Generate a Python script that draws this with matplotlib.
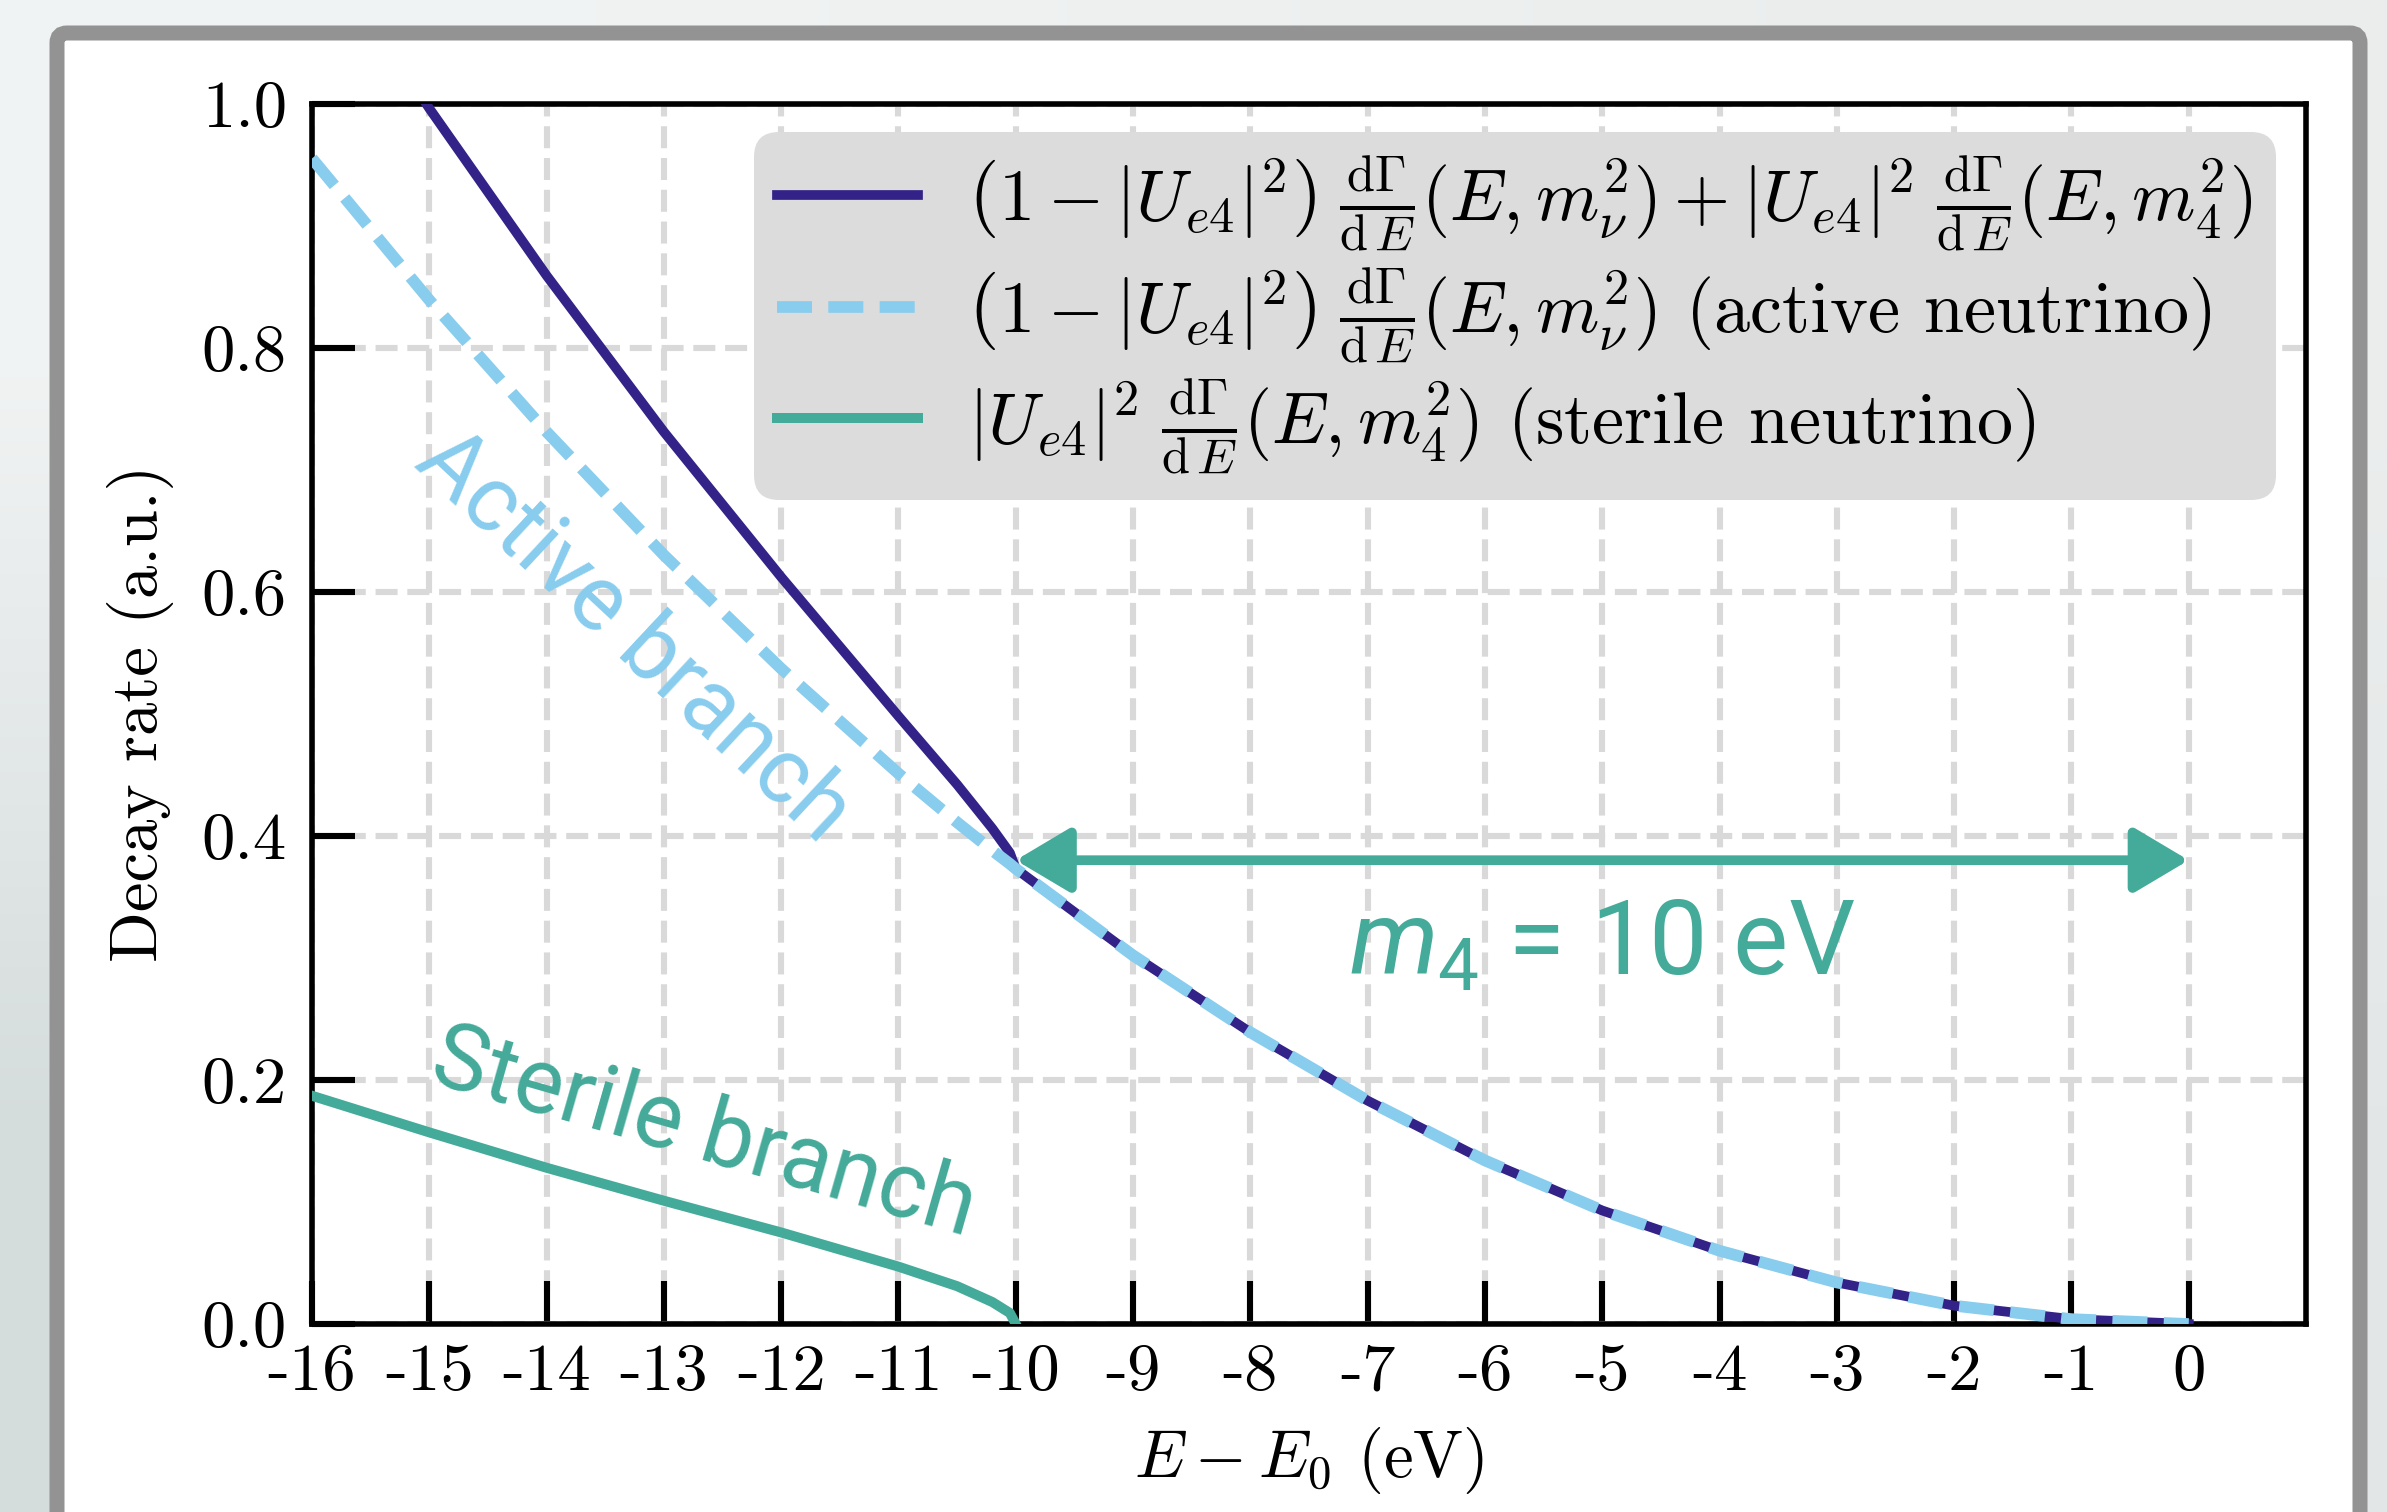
import numpy as np
import matplotlib
matplotlib.use("Agg")
import matplotlib.pyplot as plt
from matplotlib.patches import FancyBboxPatch

# ---------------- data ----------------
energy = [-16, -15, -14, -13, -12, -11, -10.5, -10.2, -10.05, -10,
          -9, -8, -7, -6, -5, -4, -3, -2, -1, 0]
active = [0.955, 0.839, 0.731, 0.630, 0.537, 0.451, 0.411, 0.388, 0.377, 0.373,
          0.302, 0.239, 0.183, 0.134, 0.093, 0.060, 0.034, 0.015, 0.004, 0.0]
sterile = [0.187, 0.157, 0.128, 0.101, 0.075, 0.047, 0.031, 0.018, 0.009, 0.0,
           0.0, 0.0, 0.0, 0.0, 0.0, 0.0, 0.0, 0.0, 0.0, 0.0]
sterile_end = -10          # sterile branch only exists below E0 - m4
x_ticks = list(range(-16, 1))
x_tick_labels = [str(t) for t in x_ticks]
y_ticks = [0.0, 0.2, 0.4, 0.6, 0.8, 1.0]
y_tick_labels = ["0.0", "0.2", "0.4", "0.6", "0.8", "1.0"]
arrow_y = 0.38
arrow_x = (-10, 0)

labels = [
    r"$\left(1-|U_{e4}|^2\right)\;\frac{\mathrm{d}\Gamma}{\mathrm{d}\,E}(E,m_\nu^2)+|U_{e4}|^2\;\frac{\mathrm{d}\Gamma}{\mathrm{d}\,E}(E,m_4^2)$",
    r"$\left(1-|U_{e4}|^2\right)\;\frac{\mathrm{d}\Gamma}{\mathrm{d}\,E}(E,m_\nu^2)$ (active neutrino)",
    r"$|U_{e4}|^2\;\frac{\mathrm{d}\Gamma}{\mathrm{d}\,E}(E,m_4^2)$ (sterile neutrino)",
]

C_DARK = "#332288"
C_LIGHT = "#88CCEE"
C_TEAL = "#44AA99"

plt.rcParams["font.family"] = ["cmr10", "DejaVu Serif"]
plt.rcParams["mathtext.fontset"] = "cm"
plt.rcParams["axes.unicode_minus"] = False
plt.rcParams["axes.formatter.use_mathtext"] = True

W, H, DPI = 2387, 1512, 200
fig = plt.figure(figsize=(W / DPI, H / DPI), dpi=DPI)

# ---------------- background + frame ----------------
bg = fig.add_axes([0, 0, 1, 1], zorder=-10)
bg.set_xlim(0, W)
bg.set_ylim(H, 0)
bg.axis("off")
grad = np.array([[[0.945, 0.953, 0.953], [0.925, 0.933, 0.933]],
                 [[0.835, 0.863, 0.863], [0.890, 0.905, 0.905]]])
bg.imshow(grad, extent=[0, W, H, 0], interpolation="bilinear", aspect="auto")
frame = FancyBboxPatch((57, 33), 2360 - 57, 1700, boxstyle="round,pad=0,rounding_size=10",
                       facecolor="white", edgecolor="#939393", linewidth=5.4)
bg.add_patch(frame)

# ---------------- main axes ----------------
ax = fig.add_axes([312 / W, 1 - 1324 / H, (2306 - 312) / W, (1324 - 103.5) / H])
ax.set_facecolor("none")

e = np.array(energy)
a = np.array(active)
s = np.array(sterile)
total = a + s
mask = e <= sterile_end

ax.plot(e, total, color=C_DARK, lw=3.5, zorder=3, label=labels[0])
ax.plot(e, a, color=C_LIGHT, lw=4.2, ls=(0, (3.0, 1.4)), zorder=4, label=labels[1])
ax.plot(e[mask], s[mask], color=C_TEAL, lw=3.6, zorder=3, label=labels[2])

ax.set_xlim(-16, 1)
ax.set_ylim(0, 1)
ax.set_xticks(x_ticks)
ax.set_xticklabels(x_tick_labels)
ax.set_yticks(y_ticks)
ax.set_yticklabels(y_tick_labels)
ax.tick_params(direction="in", length=15.6, width=2.2, labelsize=24, pad=7)
ax.tick_params(axis="y", pad=9)
for sp in ax.spines.values():
    sp.set_linewidth(2.0)

ax.grid(True, color="#d9d9d9", lw=2.2, ls=(0, (3.6, 1.6)), zorder=0)
ax.set_axisbelow(True)

ax.set_xlabel(r"$E-E_0$ (eV)", fontsize=24, labelpad=8)
ax.set_ylabel("Decay rate (a.u.)", fontsize=24, labelpad=10)

# arrow and annotations
ax.annotate("", xy=(arrow_x[0], arrow_y), xytext=(arrow_x[1], arrow_y),
            arrowprops=dict(arrowstyle="<|-|>,head_length=0.42,head_width=0.25",
                            mutation_scale=40, color=C_TEAL, lw=3.5,
                            shrinkA=0, shrinkB=0), zorder=5)

plt.rcParams["mathtext.it"] = "Roboto:italic"
plt.rcParams["mathtext.rm"] = "Roboto"
sans = dict(family=["Roboto", "DejaVu Sans"], weight="normal")
ax.text(-5.0, 0.31, r"$m_4$ = 10 eV", color=C_TEAL, fontsize=37.5, ha="center", va="center",
        math_fontfamily="custom", fontdict=sans)
ax.text(-13.26, 0.563, "Active branch", color=C_LIGHT, fontsize=33, rotation=-43,
        ha="center", va="center", rotation_mode="anchor", fontdict=sans)
ax.text(-12.66, 0.156, "Sterile branch", color=C_TEAL, fontsize=33, rotation=-16,
        ha="center", va="center", rotation_mode="anchor", fontdict=sans)

leg = ax.legend(loc="upper right", bbox_to_anchor=(0.985, 0.977), borderaxespad=0,
                fontsize=26, frameon=True, fancybox=True, facecolor="#dcdcdc",
                edgecolor="none", framealpha=1, handlelength=1.95, handletextpad=0.7,
                labelspacing=0.17, borderpad=0.32)
leg.get_frame().set_boxstyle("round", pad=0, rounding_size=0.35)

fig.savefig("out.png", dpi=DPI)
